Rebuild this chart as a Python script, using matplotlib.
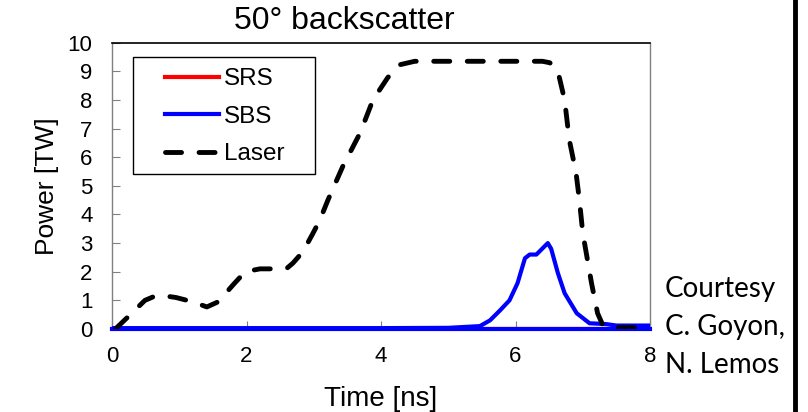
import numpy as np
import matplotlib
matplotlib.use("Agg")
import matplotlib.pyplot as plt
from matplotlib.lines import Line2D
from matplotlib.patches import Rectangle

plt.rcParams['font.family'] = ['Liberation Sans', 'DejaVu Sans']

# laser power [TW] vs time [ns]
laser_t = [0.05, 0.25, 0.49, 0.64, 0.8, 0.95, 1.2, 1.41, 1.58, 1.8, 1.98, 2.2, 2.45, 2.6,
           2.69, 2.84, 2.99, 3.09, 3.21, 3.43, 3.69, 3.88, 4.1, 4.28, 4.5, 5.0, 5.5,
           6.0, 6.4, 6.51, 6.63, 6.73, 6.8, 6.9, 6.95, 7.0, 7.13, 7.22, 7.3, 7.45, 8.0]
laser_p = [0.0, 0.45, 1.0, 1.15, 1.15, 1.1, 0.95, 0.77, 0.95, 1.54, 2.0, 2.1, 2.1, 2.12,
           2.3, 2.7, 3.35, 3.8, 4.5, 5.67, 6.85, 8.0, 8.78, 9.23, 9.35, 9.35, 9.35,
           9.35, 9.35, 9.3, 9.0, 8.0, 6.6, 5.45, 4.5, 3.35, 1.6, 0.55, 0.12, 0.05, 0.05]

# SBS backscatter
sbs_t = [0.0, 1.0, 2.0, 3.0, 4.0, 5.0, 5.47, 5.62, 5.77, 5.91, 6.03, 6.14, 6.21, 6.31,
         6.48, 6.53, 6.63, 6.73, 6.91, 7.1, 7.35, 7.5, 8.0]
sbs_p = [0.03, 0.03, 0.03, 0.03, 0.03, 0.04, 0.1, 0.3, 0.65, 1.0, 1.6, 2.47, 2.6, 2.6,
         3.0, 2.8, 1.95, 1.25, 0.55, 0.2, 0.17, 0.12, 0.12]

# SRS backscatter (essentially zero)
srs_t = [0.0, 2.0, 4.0, 6.0, 8.0]
srs_p = [0.0, 0.0, 0.0, 0.0, 0.0]

fig = plt.figure(figsize=(8.08, 4.12), dpi=100)
ax = fig.add_axes([0.1386, 0.2015, 0.6659, 0.6949])

ax.plot(srs_t, srs_p, color='red', lw=3, label='SRS', zorder=2)
ax.plot(sbs_t, sbs_p, color='blue', lw=3, label='SBS', zorder=3)
ax.plot(laser_t, laser_p, color='black', lw=3.5, dashes=(3.3, 3.6),
        dash_capstyle='round', label='Laser', zorder=4)

ax.set_xlim(0, 8)
ax.set_ylim(0, 10)
ax.set_xticks([0, 2, 4, 6, 8])
ax.set_yticks(range(0, 11))
ax.tick_params(direction='in', labelsize=16, length=6, color='gray')
ax.tick_params(axis='y', pad=14)
ax.tick_params(axis='x', pad=12)

for s in ['left', 'right']:
    ax.spines[s].set_color('gray')
    ax.spines[s].set_linewidth(1)
ax.spines['bottom'].set_color('blue')
ax.spines['bottom'].set_linewidth(3)
ax.spines['top'].set_color('black')
ax.spines['top'].set_linewidth(1.2)

ax.set_xlabel('Time [ns]', fontsize=20, labelpad=14)
ax.set_ylabel('Power [TW]', fontsize=19, labelpad=6)

fig.text(344 / 808, 1 - 21 / 412, '50° backscatter', fontsize=23,
         ha='center', va='center')

# legend without its own frame, box drawn separately
leg = ax.legend(loc='upper left', bbox_to_anchor=(0.099, 0.91), fontsize=17.5,
                handlelength=2.2, handletextpad=0.2, borderpad=0,
                labelspacing=0.63, frameon=False, borderaxespad=0)
ax.add_patch(Rectangle((0.039, 0.541), 0.338, 0.409, transform=ax.transAxes,
                       fill=False, edgecolor='black', lw=1, zorder=5))

fig.text(665 / 808, 1 - 327 / 412, 'Courtesy\nC. Goyon,\nN. Lemos',
         fontsize=20, family=['Lato', 'DejaVu Sans'], ha='left', va='center',
         linespacing=1.55)

fig.add_artist(Line2D([795 / 808, 795 / 808], [0, 1], color='black', lw=3.5,
                      transform=fig.transFigure))

fig.savefig('out.png', dpi=100)
